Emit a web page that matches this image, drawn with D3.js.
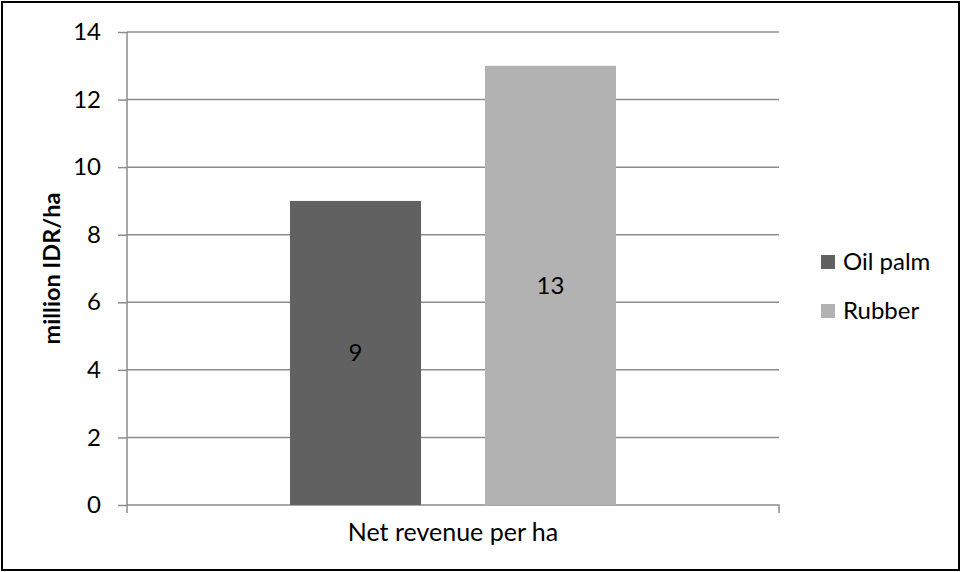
<!DOCTYPE html>
<html>
<head>
<meta charset="utf-8">
<script src="https://cdn.jsdelivr.net/npm/d3@7"></script>
<style>
  body { margin: 0; background: #fff; }
  text { font-family: Lato, "Open Sans", sans-serif; fill: #000; }
</style>
</head>
<body>
<script>
// Data
const categories = ['Net revenue per ha'];
const seriesNames = ['Oil palm', 'Rubber'];
const seriesValues = [[9], [13]];
const yTicks = [0, 2, 4, 6, 8, 10, 12, 14];
const seriesColors = ['#616161', '#b2b2b2'];

const width = 961, height = 572;
const plot = { left: 127, right: 779, top: 32, bottom: 505 };

const svg = d3.select('body')
              .append('svg')
              .attr('width', width)
              .attr('height', height);

// outer frame
svg.append('rect')
   .attr('x', 2).attr('y', 2)
   .attr('width', width - 4).attr('height', height - 4)
   .attr('fill', '#fff')
   .attr('stroke', '#000')
   .attr('stroke-width', 2);

// Scales
const yScale = d3.scaleLinear()
                 .domain([0, 14])
                 .range([plot.bottom, plot.top]);

// band for the whole category (used for the axis label)
const xScale = d3.scaleBand()
                 .domain(categories)
                 .range([plot.left, plot.right]);

// bar group inside the category: half the band, centred
const xGroup = d3.scaleBand()
                 .domain(categories)
                 .range([plot.left, plot.right])
                 .paddingOuter(0.5)
                 .paddingInner(0);

const xInner = d3.scaleBand()
                 .domain(seriesNames)
                 .range([0, xGroup.bandwidth()])
                 .paddingInner(0.328)
                 .paddingOuter(0);

// Gridlines
svg.append('g')
   .selectAll('line')
   .data(yTicks.filter(d => d > 0))
   .enter()
   .append('line')
   .attr('x1', plot.left)
   .attr('x2', plot.right)
   .attr('y1', d => yScale(d))
   .attr('y2', d => yScale(d))
   .attr('stroke', '#8c8c8c')
   .attr('stroke-width', 1.5);

// Y axis
const yAxis = d3.axisLeft(yScale)
                .tickValues(yTicks)
                .tickSize(9)
                .tickPadding(17);

const yG = svg.append('g')
              .attr('transform', `translate(${plot.left},0)`)
              .call(yAxis);
yG.select('.domain').attr('stroke', '#8c8c8c').attr('stroke-width', 1.5)
  .attr('d', `M0,${plot.top}V${plot.bottom + 8}`);
yG.selectAll('.tick line').attr('stroke', '#8c8c8c').attr('stroke-width', 1.5);
yG.selectAll('.tick text')
  .attr('font-family', 'Lato, sans-serif')
  .attr('font-size', '24px')
  .attr('fill', '#000');

// X axis
const xAxis = d3.axisBottom(xScale).tickSize(0).tickPadding(18);
const xG = svg.append('g')
              .attr('transform', `translate(0,${plot.bottom})`)
              .call(xAxis);
xG.select('.domain').attr('stroke', '#8c8c8c').attr('stroke-width', 1.5)
  .attr('d', `M${plot.left},0H${plot.right}V8`);
xG.selectAll('.tick text')
  .attr('font-family', 'Lato, sans-serif')
  .attr('font-size', '25px')
  .attr('fill', '#000');

// Bars
const bars = [];
seriesNames.forEach((s, i) => {
  categories.forEach((c, j) => {
    bars.push({ series: s, category: c, value: seriesValues[i][j], color: seriesColors[i] });
  });
});

svg.append('g')
   .selectAll('rect')
   .data(bars)
   .enter()
   .append('rect')
   .attr('x', d => xGroup(d.category) + xInner(d.series))
   .attr('y', d => yScale(d.value))
   .attr('width', xInner.bandwidth())
   .attr('height', d => yScale(0) - yScale(d.value))
   .attr('fill', d => d.color);

// Value labels
svg.append('g')
   .selectAll('text')
   .data(bars)
   .enter()
   .append('text')
   .attr('x', d => xGroup(d.category) + xInner(d.series) + xInner.bandwidth() / 2)
   .attr('y', d => (yScale(d.value) + yScale(0)) / 2)
   .attr('dy', '0.35em')
   .attr('text-anchor', 'middle')
   .attr('font-size', '24px')
   .text(d => d.value);

// Y axis title
svg.append('text')
   .attr('transform', `translate(52,${(plot.top + plot.bottom) / 2}) rotate(-90)`)
   .attr('text-anchor', 'middle')
   .attr('dy', '0.35em')
   .attr('font-size', '23.5px')
   .attr('font-weight', 'bold')
   .text('million IDR/ha');

// Legend
const legend = svg.append('g')
                  .attr('transform', 'translate(821,255)');

const items = legend.selectAll('g')
                    .data(seriesNames)
                    .enter()
                    .append('g')
                    .attr('transform', (d, i) => `translate(0,${i * 49})`);

items.append('rect')
     .attr('width', 14)
     .attr('height', 14)
     .attr('fill', (d, i) => seriesColors[i]);

items.append('text')
     .attr('x', 22)
     .attr('y', 7)
     .attr('dy', '0.35em')
     .attr('font-size', '24px')
     .text(d => d);
</script>
</body>
</html>
